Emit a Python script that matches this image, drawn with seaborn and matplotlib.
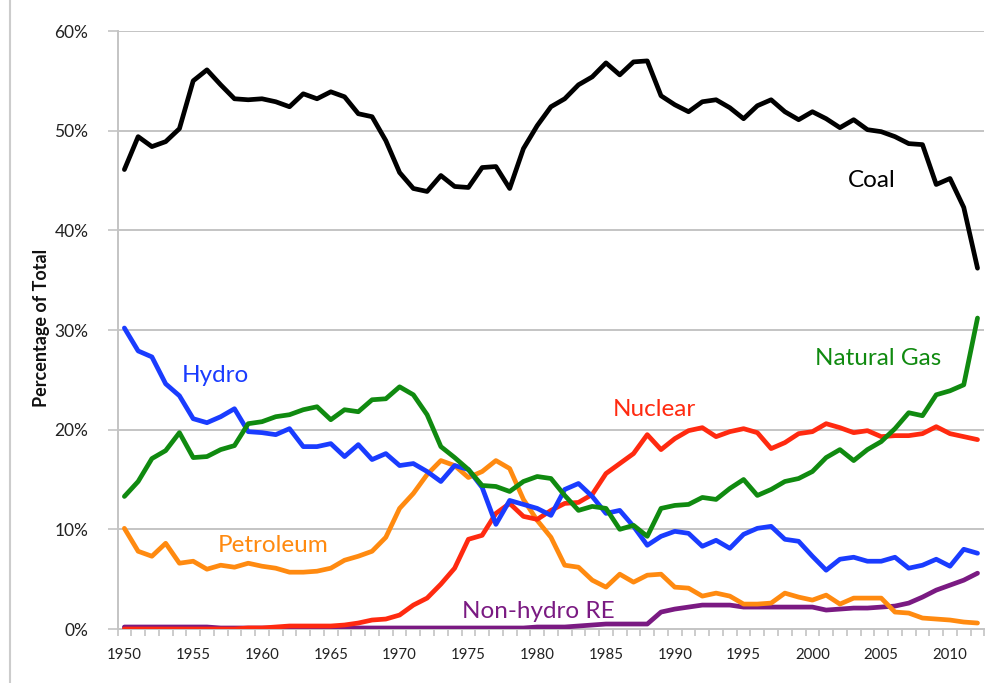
import numpy as np
import pandas as pd
import matplotlib
matplotlib.use("Agg")
import matplotlib.pyplot as plt
from matplotlib.lines import Line2D
import seaborn as sns

years = list(range(1950, 2013))

coal = [46.1, 49.4, 48.4, 48.9, 50.2, 55.0, 56.1, 54.6, 53.2, 53.1,
        53.2, 52.9, 52.4, 53.7, 53.2, 53.9, 53.4, 51.7, 51.4, 49.0,
        45.8, 44.2, 43.9, 45.5, 44.4, 44.3, 46.3, 46.4, 44.2, 48.2,
        50.5, 52.4, 53.2, 54.6, 55.4, 56.8, 55.6, 56.9, 57.0, 53.5,
        52.6, 51.9, 52.9, 53.1, 52.3, 51.2, 52.5, 53.1, 51.9, 51.1,
        51.9, 51.2, 50.3, 51.1, 50.1, 49.9, 49.4, 48.7, 48.6, 44.6,
        45.2, 42.3, 36.2]

natural_gas = [13.3, 14.8, 17.1, 17.9, 19.7, 17.2, 17.3, 18.0, 18.4, 20.6,
               20.8, 21.3, 21.5, 22.0, 22.3, 21.0, 22.0, 21.8, 23.0, 23.1,
               24.3, 23.5, 21.5, 18.3, 17.2, 16.0, 14.4, 14.3, 13.8, 14.8,
               15.3, 15.1, 13.4, 11.9, 12.3, 12.1, 10.0, 10.4, 9.3, 12.1,
               12.4, 12.5, 13.2, 13.0, 14.1, 15.0, 13.4, 14.0, 14.8, 15.1,
               15.8, 17.2, 18.0, 16.9, 18.0, 18.8, 20.1, 21.7, 21.4, 23.5,
               23.9, 24.5, 31.2]

nuclear = [0.0, 0.0, 0.0, 0.0, 0.0, 0.0, 0.0, 0.0, 0.0, 0.1,
           0.1, 0.2, 0.3, 0.3, 0.3, 0.3, 0.4, 0.6, 0.9, 1.0,
           1.4, 2.4, 3.1, 4.5, 6.1, 9.0, 9.4, 11.6, 12.6, 11.3,
           11.0, 11.9, 12.6, 12.7, 13.5, 15.6, 16.6, 17.6, 19.5, 18.0,
           19.1, 19.9, 20.2, 19.3, 19.8, 20.1, 19.7, 18.1, 18.7, 19.6,
           19.8, 20.6, 20.2, 19.7, 19.9, 19.3, 19.4, 19.4, 19.6, 20.3,
           19.6, 19.3, 19.0]

hydro = [30.2, 27.9, 27.3, 24.6, 23.4, 21.1, 20.7, 21.3, 22.1, 19.8,
         19.7, 19.5, 20.1, 18.3, 18.3, 18.6, 17.3, 18.5, 17.0, 17.6,
         16.4, 16.6, 15.8, 14.8, 16.4, 16.0, 14.2, 10.5, 12.9, 12.5,
         12.1, 11.4, 14.0, 14.6, 13.3, 11.6, 11.9, 10.3, 8.4, 9.3,
         9.8, 9.6, 8.3, 8.9, 8.1, 9.5, 10.1, 10.3, 9.0, 8.8,
         7.3, 5.9, 7.0, 7.2, 6.8, 6.8, 7.2, 6.1, 6.4, 7.0,
         6.3, 8.0, 7.6]

petroleum = [10.1, 7.8, 7.3, 8.6, 6.6, 6.8, 6.0, 6.4, 6.2, 6.6,
             6.3, 6.1, 5.7, 5.7, 5.8, 6.1, 6.9, 7.3, 7.8, 9.2,
             12.1, 13.6, 15.5, 16.9, 16.4, 15.2, 15.8, 16.9, 16.1, 13.0,
             10.9, 9.2, 6.4, 6.2, 4.9, 4.2, 5.5, 4.7, 5.4, 5.5,
             4.2, 4.1, 3.3, 3.6, 3.3, 2.5, 2.5, 2.6, 3.6, 3.2,
             2.9, 3.4, 2.5, 3.1, 3.1, 3.1, 1.7, 1.6, 1.1, 1.0,
             0.9, 0.7, 0.6]

non_hydro_re = [0.2, 0.2, 0.2, 0.2, 0.2, 0.2, 0.2, 0.1, 0.1, 0.1,
                0.1, 0.1, 0.1, 0.1, 0.1, 0.1, 0.1, 0.1, 0.1, 0.1,
                0.1, 0.1, 0.1, 0.1, 0.1, 0.1, 0.1, 0.1, 0.1, 0.1,
                0.2, 0.2, 0.2, 0.3, 0.4, 0.5, 0.5, 0.5, 0.5, 1.7,
                2.0, 2.2, 2.4, 2.4, 2.4, 2.2, 2.2, 2.2, 2.2, 2.2,
                2.2, 1.9, 2.0, 2.1, 2.1, 2.2, 2.3, 2.6, 3.2, 3.9,
                4.4, 4.9, 5.6]

sources = ["Coal", "Natural Gas", "Nuclear", "Hydro", "Petroleum", "Non-hydro RE"]
colors = ["#000000", "#108a10", "#ff2a10", "#1a3cff", "#ff8a10", "#7a1a82"]
y_ticks = [0, 10, 20, 30, 40, 50, 60]
y_tick_labels = ["0%", "10%", "20%", "30%", "40%", "50%", "60%"]
x_tick_years = list(range(1950, 2011, 5))

series = [coal, natural_gas, nuclear, hydro, petroleum, non_hydro_re]
df = pd.concat([pd.DataFrame({"Year": years, "Share": vals, "Source": name})
                for name, vals in zip(sources, series)], ignore_index=True)

sns.set_style("white")
plt.rcParams["font.family"] = ["Lato", "DejaVu Sans"]

fig = plt.figure(figsize=(9.97, 6.83), dpi=100)
ax = fig.add_axes([117.5 / 997, 1 - 629 / 683, (984.4 - 117.5) / 997, (629 - 31) / 683])

grid_c = "#c4c4c4"
for yv in y_ticks[1:]:
    ax.axhline(yv, color=grid_c, lw=1.4, zorder=0)

order = ["Non-hydro RE", "Petroleum", "Nuclear", "Hydro", "Natural Gas", "Coal"]
pal = dict(zip(sources, colors))
for name in order:
    sns.lineplot(data=df[df["Source"] == name], x="Year", y="Share", color=pal[name],
                 lw=3.4, ax=ax, legend=False, solid_joinstyle="round",
                 solid_capstyle="round", zorder=3)

ax.set_xlim(1949.5, 2012.5)
ax.set_ylim(0, 60)

for s in ["top", "right"]:
    ax.spines[s].set_visible(False)
for s in ["left", "bottom"]:
    ax.spines[s].set_color(grid_c)
    ax.spines[s].set_linewidth(1.4)

ax.set_yticks(y_ticks)
ax.set_yticklabels(y_tick_labels, fontsize=12.5, color="#222222")
ax.tick_params(axis="y", length=7, width=1.2, color=grid_c, pad=14, direction="out", left=True)

ax.set_xticks(x_tick_years)
ax.set_xticklabels([str(y) for y in x_tick_years], fontsize=10.8, color="#222222")
ax.set_xticks([y - 0.5 for y in years] + [2012.5], minor=True)
ax.tick_params(axis="x", which="major", length=0, pad=14, bottom=True)
ax.tick_params(axis="x", which="minor", length=5, width=1.2, color=grid_c, direction="out", bottom=True)

ax.set_xlabel("")
ax.set_ylabel("Percentage of Total", fontsize=13, fontweight="bold", color="#111111")
ax.yaxis.set_label_coords(-0.078, 0.503)

labels = [("Coal", 2004.3, 45.0), ("Hydro", 1956.6, 25.4), ("Petroleum", 1960.8, 8.4),
          ("Non-hydro RE", 1980.1, 1.75), ("Natural Gas", 2004.8, 27.1), ("Nuclear", 1988.5, 22.0)]
for name, lx, ly in labels:
    ax.text(lx, ly, name, color=pal[name], fontsize=17.5, ha="center", va="center", zorder=5)

fig.add_artist(Line2D([9.5 / 997, 9.5 / 997], [0, 1], color="#cccccc", lw=1.5))

fig.savefig("out.png", dpi=100, facecolor="white")
